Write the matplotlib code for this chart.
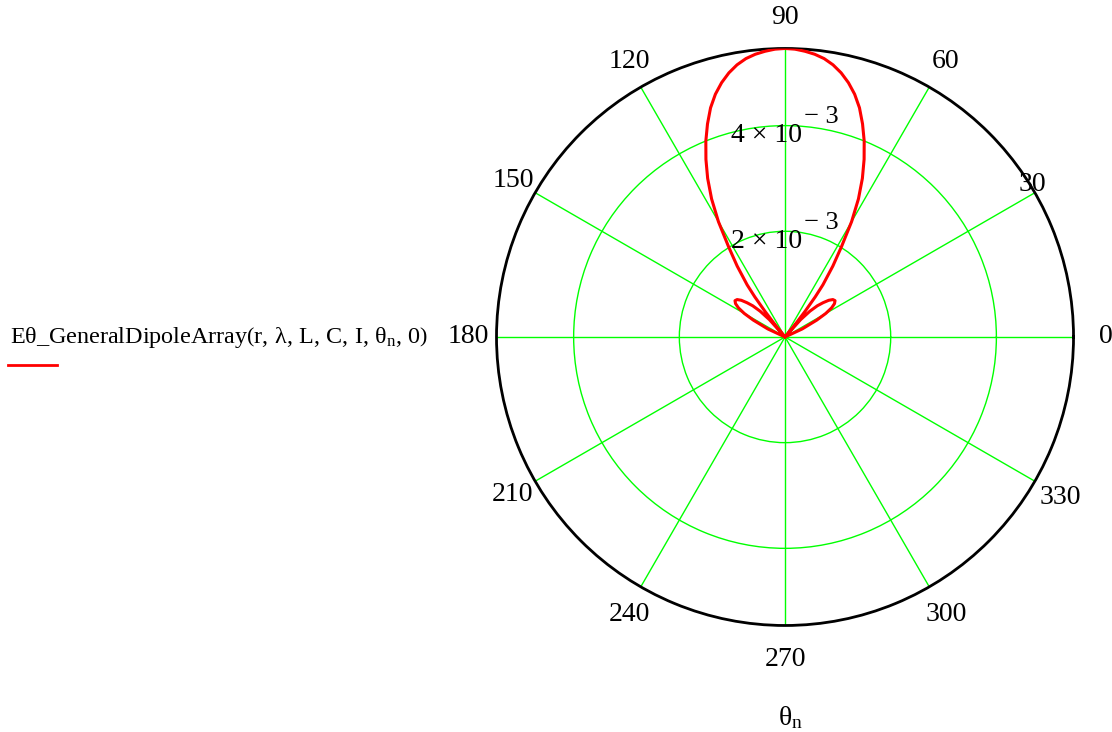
import numpy as np
import matplotlib.pyplot as plt

plt.rcParams['font.family'] = ['Liberation Serif', 'DejaVu Serif']
plt.rcParams['mathtext.fontset'] = 'custom'
plt.rcParams['mathtext.rm'] = 'Liberation Serif'
plt.rcParams['mathtext.it'] = 'Liberation Serif:italic'

# right half of the pattern (0..90 deg), values in units of 1e-3
half_deg = [0, 20, 22, 25, 28, 30, 32, 34, 36, 38, 40, 42, 44, 46, 48, 50,
            51, 52, 53, 54, 56, 58, 60, 62, 64, 66, 68, 70, 72, 74, 76, 78,
            80, 82, 84, 86, 88, 90]
half_val = [0.0, 0.0, 0.0, 0.36, 0.68, 0.89, 1.04, 1.13, 1.17, 1.15, 1.08, 0.97, 0.85, 0.68, 0.44, 0.0,
            0.30, 0.62, 0.95, 1.22, 1.62, 2.02, 2.52, 2.96, 3.34, 3.68, 4.00, 4.29, 4.56, 4.78, 4.96, 5.11,
            5.23, 5.32, 5.38, 5.42, 5.45, 5.46]

ring_vals = [2e-3, 4e-3]
ring_text = ['2', '4']
spoke_deg = list(range(0, 360, 30))
# label offsets from the outer circle, in points (x, y)
spoke_off = [(23, 0), (-2, 6), (12, 18.5), (0, 22), (-8.5, 18.5), (-16, 8.5), (-20, 0),
             (-16, -9.5), (-8.5, -20), (0, -24.5), (12, -20), (18.5, -12)]

theta_deg = np.array(half_deg + [180 - d for d in half_deg[::-1]])
vals = np.array(half_val + half_val[::-1]) * 1e-3
theta = np.radians(theta_deg)
rmax = max(vals)

fig = plt.figure(figsize=(11.12, 7.32), dpi=100)
ax = fig.add_axes([0.4465, 0.1455, 0.5189, 0.7883], projection='polar')
ax.plot(theta, vals, color='red', lw=2.2, zorder=5)
ax.set_ylim(0, rmax)

ax.set_xticks(np.radians(spoke_deg))
ax.set_xticklabels([])
ax.set_yticks(ring_vals)
ax.set_yticklabels([])
ax.grid(True, color='#00ff00', lw=1)
ax.spines['polar'].set_color('black')
ax.spines['polar'].set_linewidth(2)

# angle labels
for d, off in zip(spoke_deg, spoke_off):
    ax.annotate(str(d), xy=(np.radians(d), rmax), xytext=off,
                textcoords='offset points', ha='center', va='center', fontsize=20,
                annotation_clip=False)

# ring labels
for rv, t in zip(ring_vals, ring_text):
    ax.annotate(t + ' × 10', xy=(np.pi / 2, rv), xytext=(-13, -7),
                textcoords='offset points', ha='center', va='center', fontsize=20, zorder=6)
    ax.annotate('− 3', xy=(np.pi / 2, rv), xytext=(26, 6),
                textcoords='offset points', ha='center', va='center', fontsize=19, zorder=6)

# legend text at left
fig.text(10 / 1112, 1 - 337 / 732,
         'Eθ_GeneralDipoleArray$\\left(\\mathrm{r,\\,\\lambda,\\,L,\\,C,\\,I,\\,\\theta_n,\\,0}\\right)$',
         fontsize=17.4, ha='left', va='center')
fig.add_artist(plt.Line2D([8 / 1112, 57 / 1112], [1 - 365 / 732, 1 - 365 / 732], color='red', lw=2))

fig.text(790 / 1112, 1 - 718 / 732, 'θ$_\\mathrm{n}$', fontsize=20, ha='center', va='center')

plt.savefig('out.png', dpi=100)
